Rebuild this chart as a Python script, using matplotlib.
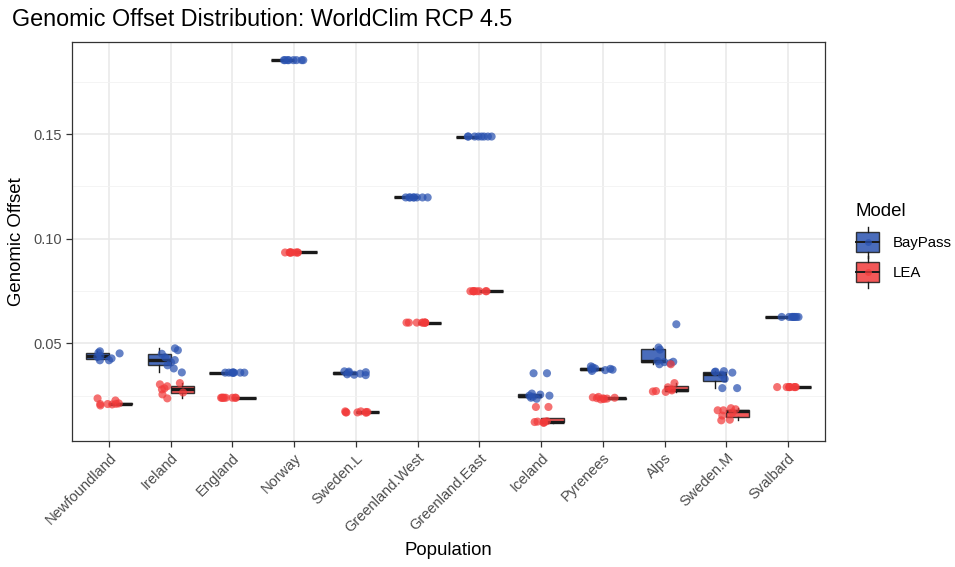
import numpy as np
import matplotlib
matplotlib.use("Agg")
import matplotlib.pyplot as plt
from matplotlib.legend_handler import HandlerBase
from matplotlib.patches import Rectangle
from matplotlib.lines import Line2D

plt.rcParams['font.family'] = ['Liberation Sans', 'DejaVu Sans']

populations = ["Newfoundland", "Ireland", "England", "Norway", "Sweden.L",
               "Greenland.West", "Greenland.East", "Iceland", "Pyrenees",
               "Alps", "Sweden.M", "Svalbard"]

models = ["BayPass", "LEA"]

baypass_offset = [
    [0.0419, 0.0419, 0.0428, 0.0435, 0.0440, 0.0452, 0.0455, 0.0462],
    [0.0361, 0.0380, 0.0395, 0.0409, 0.0420, 0.0433, 0.0450, 0.0467, 0.0476],
    [0.0360, 0.0360, 0.0360, 0.0360, 0.0360, 0.0360, 0.0360, 0.0360],
    [0.1853, 0.1853, 0.1853, 0.1853, 0.1853, 0.1853, 0.1853, 0.1853],
    [0.0348, 0.0350, 0.0352, 0.0355, 0.0360, 0.0362, 0.0365, 0.0366],
    [0.1197, 0.1197, 0.1197, 0.1197, 0.1197, 0.1197, 0.1197, 0.1197],
    [0.1488, 0.1488, 0.1488, 0.1488, 0.1488, 0.1488, 0.1488, 0.1488],
    [0.0235, 0.0240, 0.0245, 0.0250, 0.0250, 0.0255, 0.0260, 0.0357, 0.0357],
    [0.0368, 0.0372, 0.0374, 0.0376, 0.0378, 0.0380, 0.0385, 0.0390],
    [0.0400, 0.0405, 0.0410, 0.0412, 0.0415, 0.0470, 0.0480, 0.0591],
    [0.0286, 0.0286, 0.0330, 0.0350, 0.0360, 0.0363, 0.0365, 0.0367],
    [0.0626, 0.0626, 0.0626, 0.0626, 0.0626, 0.0626, 0.0626, 0.0626],
]

lea_offset = [
    [0.0203, 0.0208, 0.0210, 0.0210, 0.0211, 0.0213, 0.0227, 0.0237],
    [0.0237, 0.0256, 0.0265, 0.0280, 0.0285, 0.0295, 0.0304, 0.0310],
    [0.0240, 0.0240, 0.0240, 0.0240, 0.0240, 0.0240, 0.0240, 0.0240],
    [0.0934, 0.0934, 0.0934, 0.0934, 0.0934, 0.0934, 0.0934, 0.0934],
    [0.0168, 0.0170, 0.0170, 0.0170, 0.0172, 0.0172, 0.0175, 0.0175],
    [0.0599, 0.0599, 0.0599, 0.0599, 0.0599, 0.0599, 0.0599, 0.0599],
    [0.0749, 0.0749, 0.0749, 0.0749, 0.0749, 0.0749, 0.0749, 0.0749],
    [0.0120, 0.0122, 0.0124, 0.0125, 0.0126, 0.0128, 0.0196, 0.0196],
    [0.0232, 0.0234, 0.0236, 0.0237, 0.0238, 0.0240, 0.0242, 0.0244],
    [0.0268, 0.0270, 0.0272, 0.0275, 0.0280, 0.0290, 0.0310, 0.0400],
    [0.0132, 0.0135, 0.0155, 0.0170, 0.0180, 0.0180, 0.0185, 0.0190],
    [0.0291, 0.0291, 0.0291, 0.0291, 0.0291, 0.0291, 0.0291, 0.0291],
]

colors = {"BayPass": "#2a52b0", "LEA": "#f23b3b"}
series = {"BayPass": baypass_offset, "LEA": lea_offset}

fig = plt.figure(figsize=(9.55, 5.67), dpi=100)
ax = fig.add_axes([72 / 955, 1 - 441 / 567, (825 - 72) / 955, (441 - 42) / 567])

x = np.arange(1, len(populations) + 1)
dodge = 0.375
rng = np.random.default_rng(11)

for k, m in enumerate(models):
    pos = x + (k - 0.5) * dodge
    ax.boxplot(series[m], positions=pos, widths=dodge, patch_artist=True,
               showfliers=False, showcaps=False, whis=1.5,
               boxprops=dict(facecolor=colors[m], edgecolor="#1a1a1a",
                             linewidth=1.0, alpha=0.85),
               medianprops=dict(color="#1a1a1a", linewidth=2.4),
               whiskerprops=dict(color="#1a1a1a", linewidth=1.0),
               zorder=3, manage_ticks=False)

# jittered individual points on top of the boxes
for k, m in enumerate(models):
    for i, vals in enumerate(series[m]):
        jit = rng.uniform(-0.2, 0.2, len(vals))
        ax.scatter(x[i] + jit, vals, s=34, color=colors[m], alpha=0.72,
                   edgecolors="none", zorder=4)

# axis limits with ggplot-style expansion
all_vals = np.concatenate([np.concatenate(v) for v in series.values()])
lo, hi = all_vals.min(), all_vals.max()
pad = 0.05 * (hi - lo)
ax.set_ylim(lo - pad, hi + pad)
ax.set_xlim(0.4, len(populations) + 0.6)

ax.set_yticks([0.05, 0.10, 0.15])
ax.set_yticklabels(["0.05", "0.10", "0.15"])
ax.set_yticks([0.025, 0.075, 0.125, 0.175], minor=True)
ax.set_xticks(x)
ax.set_xticklabels(populations, rotation=45, ha="right", rotation_mode="anchor")

ax.grid(True, which="major", color="#e8e8e8", linewidth=1.1, zorder=0)
ax.grid(True, which="minor", axis="y", color="#f2f2f2", linewidth=0.6, zorder=0)
ax.set_axisbelow(True)
for s in ax.spines.values():
    s.set_color("#333333")
    s.set_linewidth(0.9)
ax.tick_params(axis="both", which="major", color="#333333", length=4, width=0.9,
               labelsize=10.5, labelcolor="#4d4d4d", pad=3)
ax.tick_params(axis="y", which="minor", length=0)

ax.set_xlabel("Population", fontsize=13.4, labelpad=5)
ax.set_ylabel("Genomic Offset", fontsize=13.4, labelpad=6)
fig.text(12 / 955, 1 - 19 / 567, "Genomic Offset Distribution: WorldClim RCP 4.5",
         fontsize=16.8, ha="left", va="center")


class BoxKeyHandler(HandlerBase):
    def create_artists(self, legend, orig_handle, xdescent, ydescent, width,
                       height, fontsize, trans):
        c = orig_handle.get_color()
        cx = width / 2 - xdescent
        cy = height / 2 - ydescent
        bw, bh = width * 0.95, height * 1.2
        rect = Rectangle((cx - bw / 2, cy - bh / 2), bw, bh, facecolor=c,
                         edgecolor="#1a1a1a", linewidth=1.0, alpha=0.85,
                         transform=trans)
        med = Line2D([cx - bw / 2, cx + bw / 2], [cy, cy], color="#1a1a1a",
                     linewidth=1.4, transform=trans)
        wt = Line2D([cx, cx], [cy + bh / 2, cy + bh / 2 + height * 0.35],
                    color="#1a1a1a", linewidth=1.0, transform=trans)
        wb = Line2D([cx, cx], [cy - bh / 2, cy - bh / 2 - height * 0.35],
                    color="#1a1a1a", linewidth=1.0, transform=trans)
        dot = Line2D([cx], [cy], marker="o", markersize=5, color=c, alpha=0.72,
                     markeredgecolor="none", linestyle="none", transform=trans)
        return [rect, med, wt, wb, dot]


handles = [Line2D([], [], color=colors[m]) for m in models]
leg = fig.legend(handles, models, title="Model", loc="upper left",
                 bbox_to_anchor=(842 / 955, 1 - 190 / 567), frameon=False,
                 handler_map={Line2D: BoxKeyHandler()}, fontsize=10.8,
                 title_fontsize=13.4, handlelength=1.6, handleheight=1.3,
                 labelspacing=0.9, handletextpad=0.9)
leg._legend_box.align = "left"

fig.savefig("out.png", dpi=100)
